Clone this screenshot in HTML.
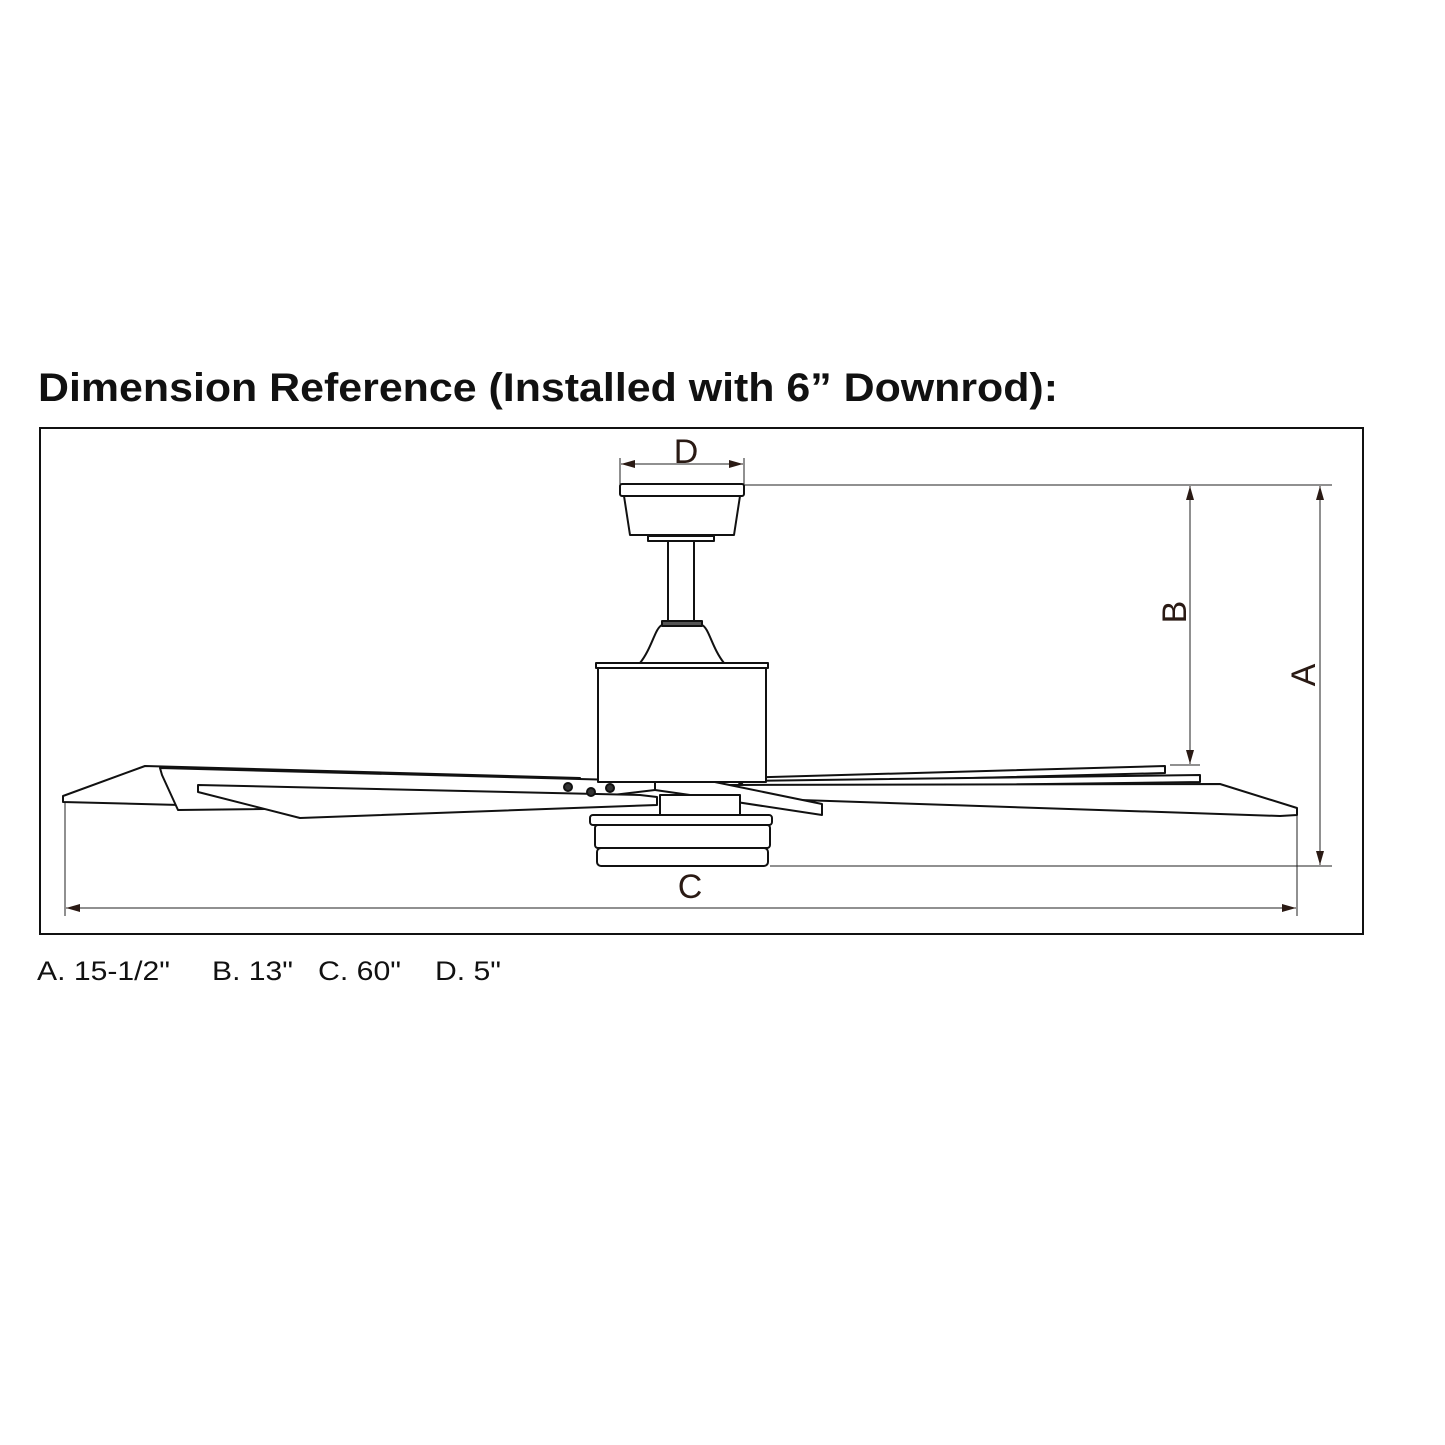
<!DOCTYPE html>
<html><head><meta charset="utf-8"><style>
html,body{margin:0;padding:0;background:#fff;}
svg{display:block;}
</style></head><body>
<svg width="1445" height="1445" viewBox="0 0 1445 1445" xmlns="http://www.w3.org/2000/svg" font-family="Liberation Sans, Arial, sans-serif">
<rect width="1445" height="1445" fill="#fff"/>
<text x="38" y="401" font-size="40" font-weight="bold" fill="#111" textLength="1020" lengthAdjust="spacingAndGlyphs">Dimension Reference (Installed with 6” Downrod):</text>
<rect x="40" y="428" width="1323" height="506" fill="none" stroke="#111" stroke-width="2"/>

<defs>
<marker id="ar" markerWidth="14" markerHeight="8" refX="14" refY="4" orient="auto" markerUnits="userSpaceOnUse">
<path d="M0,0 L14,4 L0,8 Z" fill="#2a1a14"/></marker>
</defs>

<g stroke="#222" fill="none" stroke-width="1">
<line x1="744" y1="485" x2="1332" y2="485"/>
<line x1="770" y1="866" x2="1332" y2="866"/>
<line x1="1170" y1="765" x2="1200" y2="765"/>
<line x1="65" y1="800" x2="65" y2="916"/>
<line x1="1297" y1="815" x2="1297" y2="916"/>
<line x1="620" y1="458" x2="620" y2="484"/>
<line x1="744" y1="458" x2="744" y2="484"/>
<line x1="682" y1="464" x2="621" y2="464" marker-end="url(#ar)"/>
<line x1="682" y1="464" x2="743" y2="464" marker-end="url(#ar)"/>
<line x1="1190" y1="620" x2="1190" y2="486" marker-end="url(#ar)"/>
<line x1="1190" y1="620" x2="1190" y2="764" marker-end="url(#ar)"/>
<line x1="1320" y1="670" x2="1320" y2="486" marker-end="url(#ar)"/>
<line x1="1320" y1="670" x2="1320" y2="865" marker-end="url(#ar)"/>
<line x1="680" y1="908" x2="66" y2="908" marker-end="url(#ar)"/>
<line x1="680" y1="908" x2="1296" y2="908" marker-end="url(#ar)"/>
</g>

<g fill="#2a1a14" font-size="34">
<text x="686" y="463" text-anchor="middle">D</text>
<text x="690" y="898" text-anchor="middle">C</text>
<text transform="translate(1186,612) rotate(-90)" text-anchor="middle">B</text>
<text transform="translate(1315,675) rotate(-90)" text-anchor="middle">A</text>
</g>

<g stroke="#111" fill="#fff" stroke-width="2" stroke-linejoin="round">
<polygon points="63,796 145,766 580,778 580,785 180,805 63,802"/>
<polygon points="160,768 655,781 655,790 520,806 178,810 162,775"/>
<polygon points="198,785 640,795 657,797 657,805 300,818 198,792"/>
<circle cx="568" cy="787" r="4" fill="#333"/>
<circle cx="591" cy="792" r="4" fill="#333"/>
<circle cx="610" cy="788" r="4" fill="#333"/>
<polygon points="735,778 1165,766 1165,773 740,784"/>
<polygon points="740,781 1200,775 1200,782 745,788"/>
<polygon points="730,785 1220,784 1297,808 1297,815 1280,816 800,800 730,792"/>
<polygon points="655,782 705,780 822,804 822,815 690,795 655,790"/>
<rect x="598" y="667" width="168" height="115"/>
<rect x="596" y="663" width="172" height="5"/>
<path d="M640,663 C652,648 655,628 662,625 L702,625 C709,628 712,648 724,663 Z"/>
<rect x="662" y="621" width="40" height="5" fill="#555"/>
<rect x="668" y="541" width="26" height="80"/>
<rect x="648" y="536" width="66" height="5"/>
<path d="M624,496 L740,496 L734,535 L630,535 Z"/>
<rect x="620" y="484" width="124" height="12" rx="2"/>
<rect x="660" y="795" width="80" height="20"/>
<rect x="590" y="815" width="182" height="10" rx="3"/>
<rect x="595" y="825" width="175" height="23" rx="3"/>
<rect x="597" y="848" width="171" height="18" rx="4"/>
</g>

<g font-size="27" fill="#111">
<text x="37" y="980" textLength="133" lengthAdjust="spacingAndGlyphs">A. 15-1/2"</text>
<text x="212" y="980" textLength="81" lengthAdjust="spacingAndGlyphs">B. 13"</text>
<text x="318" y="980" textLength="83" lengthAdjust="spacingAndGlyphs">C. 60"</text>
<text x="435" y="980" textLength="66" lengthAdjust="spacingAndGlyphs">D. 5"</text>
</g>
</svg>
</body></html>
